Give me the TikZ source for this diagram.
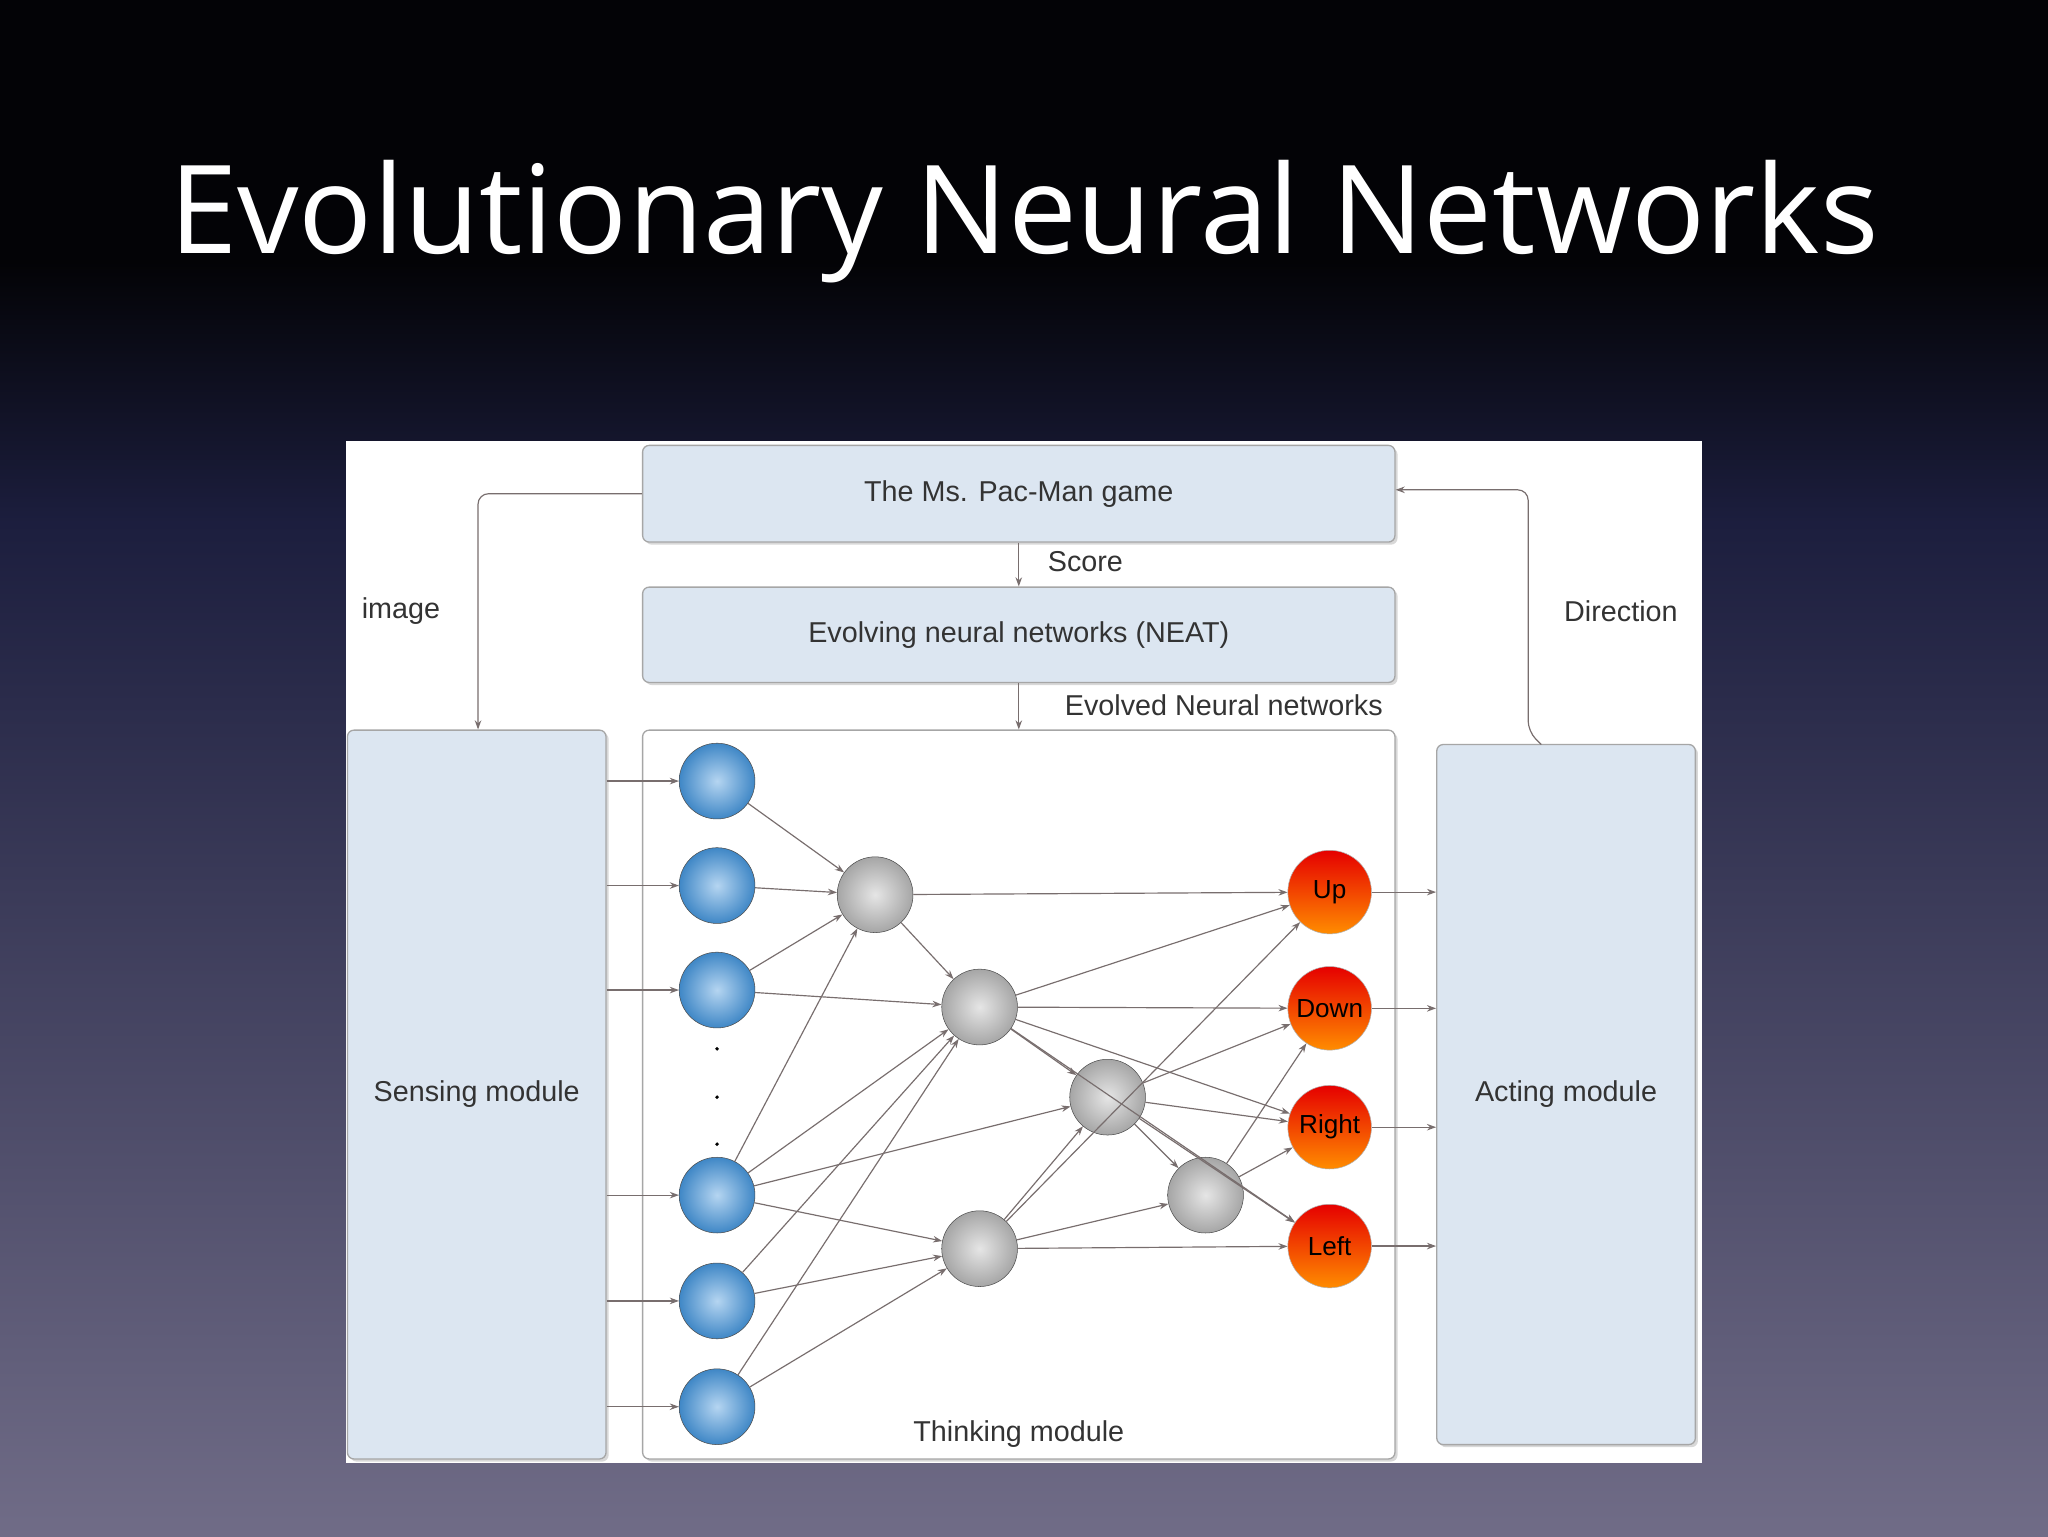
\documentclass[tikz,border=0pt]{standalone}
\usepackage{fontspec}
\setmainfont{Liberation Sans}
\newfontfamily\titlefont{Open Sans}
\usetikzlibrary{shadows,arrows.meta}
\definecolor{bgtop}{RGB}{3,3,6}
\definecolor{bgmid}{RGB}{28,30,62}
\definecolor{bgbot}{RGB}{112,108,135}
\definecolor{boxfill}{RGB}{220,230,241}
\definecolor{edge}{RGB}{120,110,110}
\definecolor{bluen}{RGB}{70,150,220}
\begin{document}
\begin{tikzpicture}[x=1pt,y=-1pt,
  box/.style={draw=gray!70,fill=boxfill,rounded corners=5pt,line width=1pt,drop shadow={shadow xshift=2pt,shadow yshift=-2pt,opacity=0.3}},
  lbl/.style={font=\fontsize{22}{24}\selectfont,text=black!80},
  con/.style={draw=edge,line width=0.9pt,-{Stealth[length=7pt,width=5pt]}},
  inn/.style={circle,minimum size=58pt,inner sep=0,draw=gray!60!black,inner color=bluen!40,outer color=bluen!90!black},
  hid/.style={circle,minimum size=58pt,inner sep=0,draw=gray!60!black,inner color=gray!20,outer color=gray!70},
  outn/.style={circle,minimum size=64pt,inner sep=0,draw=gray!60,top color=red!90!black,bottom color=orange!90!yellow,font=\fontsize{20}{22}\selectfont}]
\useasboundingbox (0,0) rectangle (1568,1176);
\fill[bgtop] (0,0) rectangle (1568,200);
\shade[top color=bgtop,bottom color=bgmid] (0,200) rectangle (1568,400);
\shade[top color=bgmid,bottom color=bgbot] (0,400) rectangle (1568,1176);
\node[text=white,font=\titlefont\fontsize{94}{104}\selectfont] (title) at (784,170) {Evolutionary Neural Networks};
\fill[white] (265,338) rectangle (1303,1120);
\node[box,minimum width=576pt,minimum height=74pt,lbl] (game) at (780,378) {The Ms. Pac-Man game};
\node[box,minimum width=576pt,minimum height=73pt,lbl] (neat) at (780,486) {Evolving neural networks (NEAT)};
\node[draw=gray!70,fill=white,rounded corners=5pt,line width=1pt,minimum width=576pt,minimum height=558pt,drop shadow={shadow xshift=2pt,shadow yshift=-2pt,opacity=0.3}] (think) at (780,838) {};
\node[lbl,anchor=south] (tm) at (780,1112) {Thinking module};
\node[box,minimum width=198pt,minimum height=558pt,lbl] (sense) at (365,838) {Sensing module};
\node[box,minimum width=198pt,minimum height=536pt,lbl] (act) at (1199,838) {Acting module};
\coordinate (g1) at (366,378);
\draw[con,rounded corners=8pt] (game.west) -- (g1) -- (sense.north -| g1);
\node[lbl] (img) at (307,468) {image};
\draw[con] (game.south) -- (neat.north);
\node[lbl] (sc) at (831,430) {Score};
\draw[con] (neat.south) -- (think.north);
\node[lbl] (ev) at (937,540) {Evolved Neural networks};
\coordinate (d1) at (1170,375);
\draw[con,rounded corners=8pt] (1180,570) -- (1170,560) -- (d1) -- (game.east |- d1);
\node[lbl] (dir) at (1241,468) {Direction};
\foreach \n/\y in {b1/598,b2/678,b3/758,b4/915,b5/996,b6/1077}{
  \node[inn] (\n) at (549,\y) {};
  \draw[con] (sense.east |- \n) -- (\n.west);
}
\foreach \y in {803,840,876} \fill (549,\y) circle (1.5pt);
\node[hid] (A) at (670,685) {};
\node[hid] (B) at (750,771) {};
\node[hid] (C) at (848,840) {};
\node[hid] (D) at (750,956) {};
\node[hid] (E) at (923,915) {};
\node[outn] (up) at (1018,683) {Up};
\node[outn] (dn) at (1018,772) {Down};
\node[outn] (rt) at (1018,863) {Right};
\node[outn] (lf) at (1018,954) {Left};
\foreach \o in {up,dn,rt,lf} \draw[con] (\o.east) -- (act.west |- \o);
\foreach \a/\b in {b1/A,b2/A,b3/A,b4/A,b3/B,b4/B,b5/B,b6/B,b4/C,b4/D,b5/D,b6/D,
  A/up,A/B,B/up,B/dn,B/rt,B/lf,C/dn,C/rt,C/lf,C/E,D/C,D/E,D/lf,D/up,E/rt,E/dn,B/C}
  \draw[con] (\a) -- (\b);
\end{tikzpicture}
\end{document}
